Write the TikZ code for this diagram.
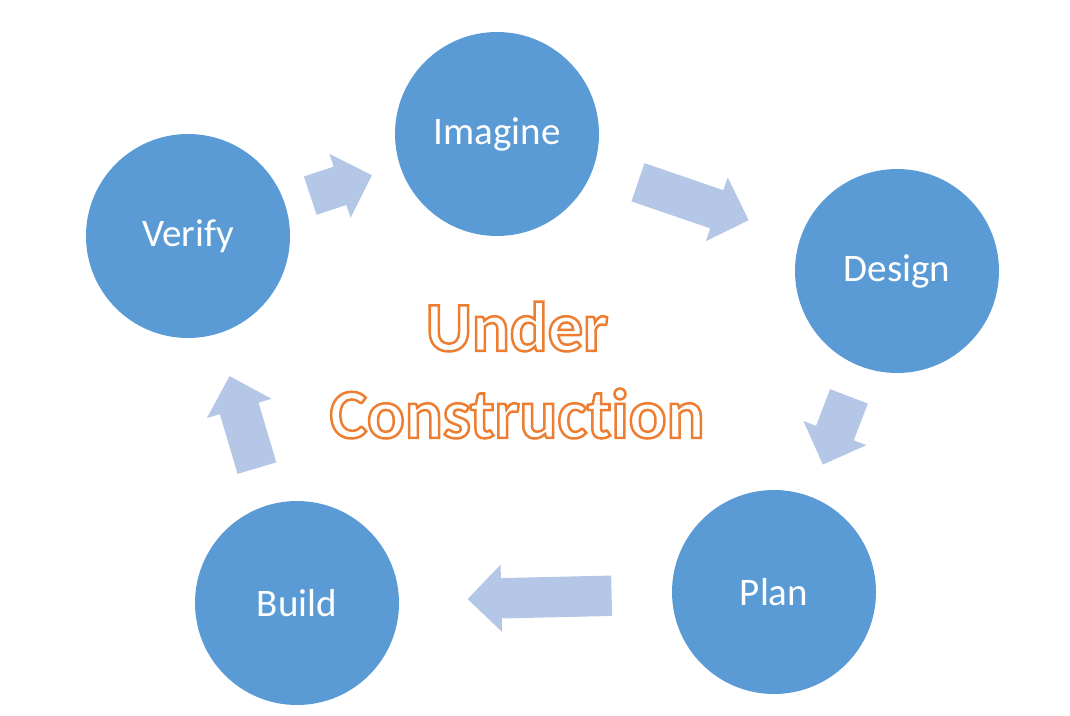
\documentclass[tikz,border=0pt]{standalone}
\usepackage{fontspec}
\setmainfont{Carlito}[Ligatures=NoCommon]
\usetikzlibrary{shapes.arrows}

\definecolor{stageblue}{HTML}{5B9BD5}
\definecolor{arrowblue}{HTML}{B4C7E7}
\definecolor{titleorange}{HTML}{ED7D31}
% white letters with an orange outline (fill and stroke render mode)
\newcommand{\outlinetext}[1]{%
    \textcolor{white}{\special{pdf:code 2 Tr 2.5 w 0.929 0.490 0.192 RG}#1\special{pdf:code 0 Tr 0.4 w}}}

\begin{document}
\begin{tikzpicture}[
        x=1pt, y=-1pt,
        font=\fontsize{39}{47}\selectfont,
        stage/.style={
            circle,
            fill=stageblue,
            text=white,
            minimum size=204pt,
            inner sep=0pt
        },
        blockarrow/.style={
            single arrow,
            fill=arrowblue,
            sloped,
            allow upside down,
            anchor=tail,
            inner xsep=0pt,
            inner ysep=20pt,
            single arrow head extend=13.5pt
        }
    ]
    \useasboundingbox (0,0) rectangle (1070,715);

    \node[stage] (imagine) at (497,134) {Imagine};
    \node[stage] (design) at (897,271) {Design};
    \node[stage] (plan) at (774,592) {Plan};
    \node[stage] (build) at (297,603) {Build};
    \node[stage] (verify) at (188,236) {Verify};

    \node[font=\bfseries\fontsize{70.5}{87}\selectfont, align=center] (title) at (517,370)
        {\outlinetext{Under}\\\outlinetext{Construction}};

    % cycle arrows, set on the line between circle centres
    \path (verify.center) -- node[blockarrow, minimum height=65pt, pos=0.395] (verifytoimagine) {} (imagine.center);
    \path (imagine.center) -- node[blockarrow, minimum height=117pt, pos=0.352] (imaginetodesign) {} (design.center);
    \path (design.center) -- node[blockarrow, minimum height=73pt, pos=0.39] (designtoplan) {} (plan.center);
    \path (plan.center) -- node[blockarrow, minimum height=144pt, pos=0.34] (plantobuild) {} (build.center);
    \path (build.center) -- node[blockarrow, minimum height=96pt, pos=0.367] (buildtoverify) {} (verify.center);

\end{tikzpicture}
\end{document}
